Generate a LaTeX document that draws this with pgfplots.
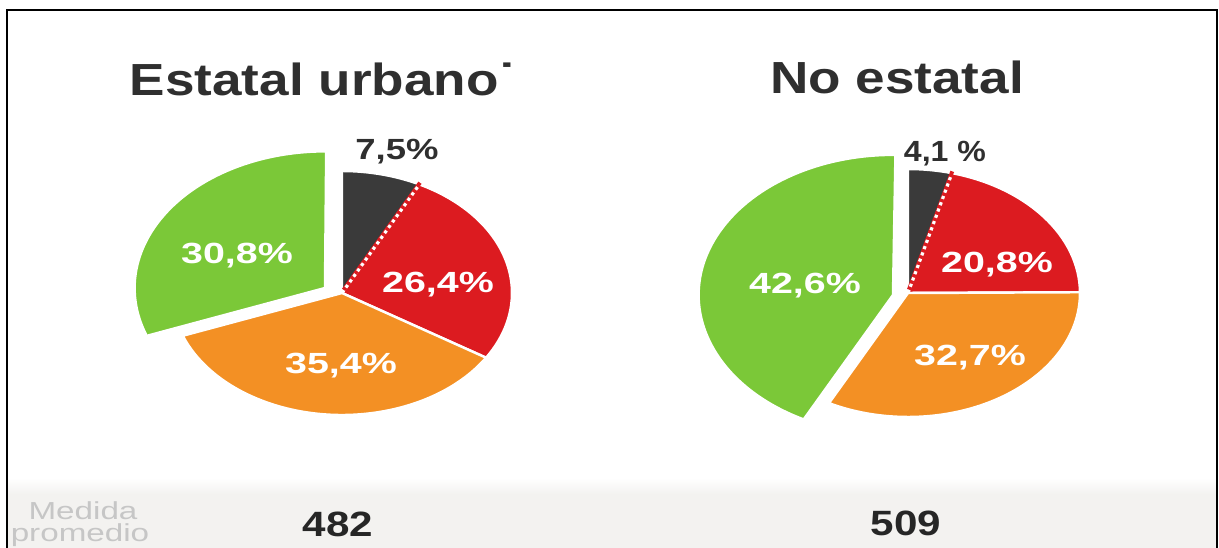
\documentclass[border=0pt]{standalone}
\usepackage{fontspec}
\setmainfont{Liberation Sans}
\usepackage{pgfplots}
\usepackage{pgfplotstable}
\pgfplotsset{compat=1.18}

\definecolor{pdark}{HTML}{3A3A3A}
\definecolor{pred}{HTML}{DC1B20}
\definecolor{porange}{HTML}{F39024}
\definecolor{pgreen}{HTML}{7BC838}
\definecolor{titlegray}{HTML}{2F2F2F}
\definecolor{bandgray}{HTML}{F3F2F0}

% one row per slice, clockwise from 12 o'clock; dx, dy, s move and enlarge the pulled-out slice
\pgfplotstableread{
pct  col     dx  dy  s
7.5  pdark   0   0   1
26.4 pred    0   0   1
35.4 porange 0   0   1
30.8 pgreen  -17 -5  1.12
}\pieA
\pgfplotstableread{
pct  col     dx  dy  s
4.1  pdark   0   0   1
20.8 pred    0   0   1
32.7 porange 0   0   1
42.6 pgreen  -15 2   1.13
}\pieB

% #1 table, #2 #3 centre, #4 #5 radii (all in pixels of the reference)
\newcommand\drawpie[5]{%
  \pgfplotstablegetrowsof{#1}\pgfmathtruncatemacro\lastrow{\pgfplotsretval-1}%
  \gdef\cum{0}%
  \foreach \i in {0,...,\lastrow}{%
    \pgfplotstablegetelem{\i}{pct}\of{#1}\let\pct\pgfplotsretval
    \pgfplotstablegetelem{\i}{col}\of{#1}\let\col\pgfplotsretval
    \pgfplotstablegetelem{\i}{dx}\of{#1}\let\dx\pgfplotsretval
    \pgfplotstablegetelem{\i}{dy}\of{#1}\let\dy\pgfplotsretval
    \pgfplotstablegetelem{\i}{s}\of{#1}\let\s\pgfplotsretval
    \pgfmathsetmacro\aa{90-3.6*\cum}%
    \pgfmathsetmacro\ab{90-3.6*(\cum+\pct)}%
    \pgfmathsetmacro\rxx{#4*\s*0.284528}%
    \pgfmathsetmacro\ryy{#5*\s*0.284528}%
    \pgfmathsetmacro\cxx{#2+\dx}%
    \pgfmathsetmacro\cyy{#3+\dy}%
    \fill[fill=\col, draw=white, line width=0.7pt, line join=round]
      (axis cs:\cxx,\cyy) -- ++(\aa:\rxx pt and \ryy pt)
      arc[start angle=\aa, end angle=\ab, x radius=\rxx pt, y radius=\ryy pt] -- cycle;
    \pgfmathsetmacro\newcum{\cum+\pct}\xdef\cum{\newcum}%
  }%
  % dotted divider between the first two slices (no solid gap there)
  \pgfplotstablegetelem{0}{pct}\of{#1}%
  \pgfmathsetmacro\dotang{90-3.6*\pgfplotsretval}%
  \pgfmathsetmacro\rxx{#4*0.284528-0.5}%
  \pgfmathsetmacro\ryy{#5*0.284528-0.5}%
  \draw[pred, line width=1.1pt]
    (axis cs:#2,#3) ++(\dotang:1pt and 1pt) -- ++(\dotang:\rxx pt and \ryy pt);
  \draw[white, densely dotted, line width=0.9pt]
    (axis cs:#2,#3) -- ++(\dotang:\rxx pt and \ryy pt);
}

\newcommand\lbl[1]{\scalebox{1.35}[1]{\bfseries\fontsize{8.3}{10}\selectfont #1}}

\begin{document}
\begin{tikzpicture}
\begin{axis}[
    name=ax, at={(0,0)}, anchor=south west,
    x=0.1mm, y=0.1mm, scale only axis,
    xmin=0, xmax=1219, ymin=0, ymax=548, y dir=reverse,
    hide axis, clip=false,
  ]
  \pgfplotsextra{
    % bottom band
    \shade[top color=white, bottom color=bandgray]
      (axis cs:7,478) rectangle (axis cs:1217,494);
    \fill[bandgray] (axis cs:7,494) rectangle (axis cs:1217,548);
    % frame
    \draw[black, line width=0.8pt] (axis cs:7,548) -- (axis cs:7,10)
      -- (axis cs:1217,10) -- (axis cs:1217,548);

    \drawpie{\pieA}{342}{293}{170}{122}
    \drawpie{\pieB}{908}{293}{172}{124}

    % titles
    \node[anchor=base, inner sep=0, text=titlegray] at (axis cs:323,95)
      {\scalebox{1.18}[1]{\bfseries\fontsize{12.8}{15}\selectfont Estatal urbano˙}};
    \node[anchor=base, inner sep=0, text=titlegray] at (axis cs:897,93)
      {\scalebox{1.18}[1]{\bfseries\fontsize{12.8}{15}\selectfont No estatal}};

    % slice labels
    \node[anchor=base, inner sep=0, text=white] at (axis cs:237,263) {\lbl{30,8\%}};
    \node[anchor=base, inner sep=0, text=white] at (axis cs:438,292) {\lbl{26,4\%}};
    \node[anchor=base, inner sep=0, text=white] at (axis cs:341,373) {\lbl{35,4\%}};
    \node[anchor=base, inner sep=0, text=titlegray] at (axis cs:397,160) {\scalebox{1.25}[1]{\bfseries\fontsize{8.3}{10}\selectfont 7,5\%}};
    \node[anchor=base, inner sep=0, text=white] at (axis cs:805,293) {\lbl{42,6\%}};
    \node[anchor=base, inner sep=0, text=white] at (axis cs:997,272) {\lbl{20,8\%}};
    \node[anchor=base, inner sep=0, text=white] at (axis cs:970,365) {\lbl{32,7\%}};
    \node[anchor=base, inner sep=0, text=titlegray] at (axis cs:945,162) {\scalebox{1.1}[1]{\bfseries\fontsize{8.3}{10}\selectfont 4,1 \%}};

    % bottom row
    \node[anchor=base, inner sep=0, text=gray!45] at (axis cs:83,519)
      {\scalebox{1.35}[1]{\fontsize{7}{8}\selectfont Medida}};
    \node[anchor=base, inner sep=0, text=gray!45] at (axis cs:80,541)
      {\scalebox{1.35}[1]{\fontsize{7}{8}\selectfont promedio}};
    \node[anchor=base, inner sep=0, text=black!85] at (axis cs:338,536)
      {\scalebox{1.2}[1]{\bfseries\fontsize{10}{12}\selectfont 482}};
    \node[anchor=base, inner sep=0, text=black!85] at (axis cs:906,535)
      {\scalebox{1.2}[1]{\bfseries\fontsize{10}{12}\selectfont 509}};
  }
\end{axis}
\pgfresetboundingbox
\path (ax.south west) rectangle (ax.north east);
\end{tikzpicture}
\end{document}
